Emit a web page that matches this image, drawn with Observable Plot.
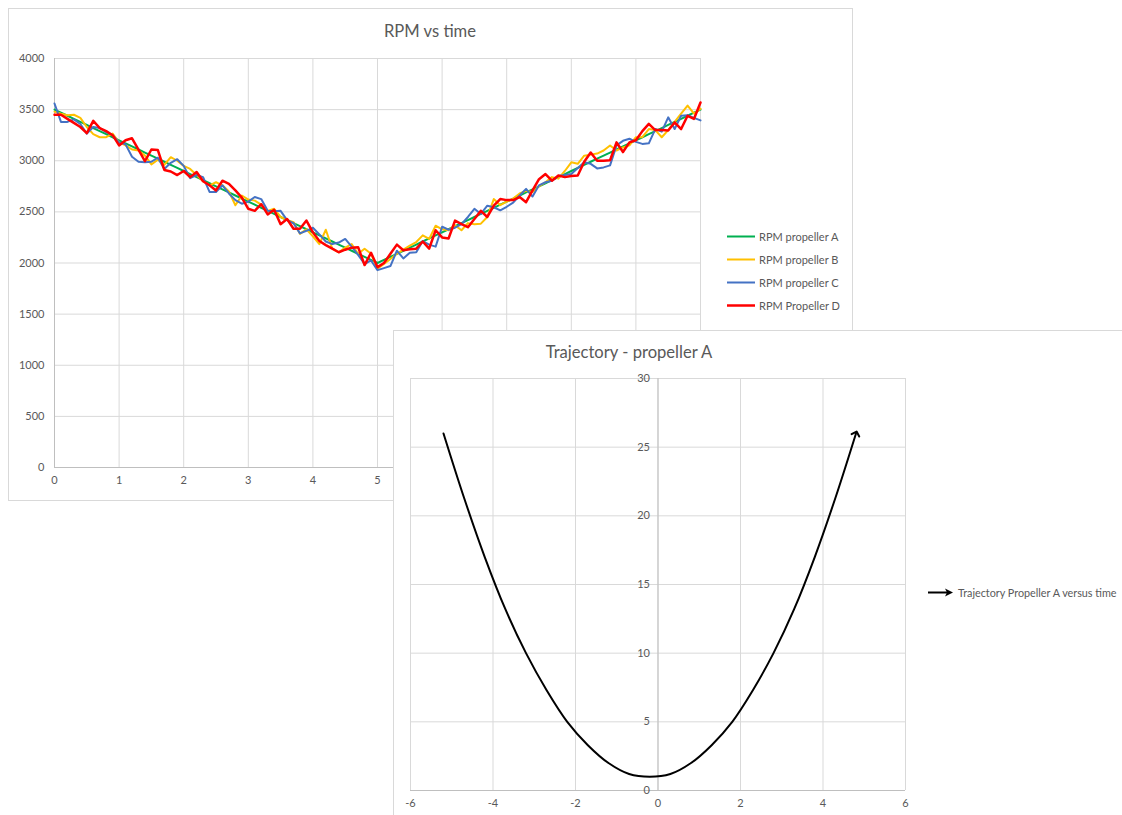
<!DOCTYPE html>
<html><head><meta charset="utf-8">
<script src="https://cdn.jsdelivr.net/npm/d3@7"></script>
<script src="https://cdn.jsdelivr.net/npm/@observablehq/plot@0.6"></script>
<style>
html,body{margin:0;padding:0;background:#fff;width:1122px;height:815px;overflow:hidden;font-family:Lato,"Open Sans",sans-serif;}
.panel{position:absolute;background:#fff;outline:1px solid #d9d9d9;outline-offset:-1px;}
#p1{left:8px;top:8px;width:845px;height:493px;}
#p2{left:393px;top:330px;width:760px;height:520px;}
.panel svg{position:absolute;left:0;top:0;}
.title{position:absolute;color:#595959;font-size:16.6px;white-space:nowrap;transform:translate(-50%,-50%);}
.lg{position:absolute;display:flex;align-items:center;color:#595959;white-space:nowrap;transform:translateY(-50%);}
.lg svg{position:static;margin-right:2px;}
</style></head>
<body>
<div id="p1" class="panel"><div class="title" style="left:422px;top:23px;">RPM vs time</div></div>
<div id="p2" class="panel"><div class="title" style="left:236px;top:22px;">Trajectory - propeller A</div></div>
<script>
// ---- Chart 1: RPM vs time ----
const time = [0,0.1,0.2,0.3,0.4,0.5,0.6,0.7,0.8,0.9,1,1.1,1.2,1.3,1.4,1.5,1.6,1.7,1.8,1.9,2,2.1,2.2,2.3,2.4,2.5,2.6,2.7,2.8,2.9,3,3.1,3.2,3.3,3.4,3.5,3.6,3.7,3.8,3.9,4,4.1,4.2,4.3,4.4,4.5,4.6,4.7,4.8,4.9,5,5.1,5.2,5.3,5.4,5.5,5.6,5.7,5.8,5.9,6,6.1,6.2,6.3,6.4,6.5,6.6,6.7,6.8,6.9,7,7.1,7.2,7.3,7.4,7.5,7.6,7.7,7.8,7.9,8,8.1,8.2,8.3,8.4,8.5,8.6,8.7,8.8,8.9,9,9.1,9.2,9.3,9.4,9.5,9.6,9.7,9.8,9.9,10];
const rpmA = [3500,3470,3440,3410,3380,3350,3320,3290,3260,3230,3200,3170,3140,3110,3080,3050,3020,2990,2960,2930,2900,2870,2840,2810,2780,2750,2720,2690,2660,2630,2600,2570,2540,2510,2480,2450,2420,2390,2360,2330,2300,2270,2240,2210,2180,2150,2120,2090,2060,2030,2000,2030,2060,2090,2120,2150,2180,2210,2240,2270,2300,2330,2360,2390,2420,2450,2480,2510,2540,2570,2600,2630,2660,2690,2720,2750,2780,2810,2840,2870,2900,2930,2960,2990,3020,3050,3080,3110,3140,3170,3200,3230,3260,3290,3320,3350,3380,3410,3440,3470,3500];
const rpmB = [3480,3460,3445,3450,3420,3330,3260,3230,3230,3265,3180,3150,3110,3100,3050,2965,3010,2960,3035,3000,2950,2920,2860,2800,2760,2790,2760,2700,2565,2660,2620,2610,2570,2510,2530,2450,2420,2400,2285,2330,2260,2185,2325,2140,2105,2150,2185,2090,2140,2090,1945,1990,2040,2090,2130,2170,2205,2270,2235,2365,2330,2320,2370,2320,2390,2380,2385,2450,2625,2565,2600,2630,2680,2705,2695,2750,2790,2840,2825,2900,2985,2970,3050,3060,3070,3100,3150,3100,3130,3150,3230,3230,3310,3300,3230,3300,3380,3460,3540,3460,3510];
const rpmC = [3560,3380,3380,3405,3360,3265,3330,3320,3280,3250,3180,3160,3040,2990,2985,2990,3030,2920,2980,3015,2950,2830,2860,2840,2695,2695,2760,2680,2615,2580,2600,2645,2625,2510,2505,2510,2420,2390,2290,2315,2345,2280,2210,2185,2200,2235,2160,2080,1990,2025,1930,1950,1970,2120,2045,2100,2105,2215,2180,2160,2355,2325,2345,2380,2450,2530,2480,2560,2545,2515,2550,2590,2660,2725,2650,2760,2790,2805,2850,2860,2870,2930,2985,2970,2925,2935,2955,3150,3195,3215,3185,3165,3170,3310,3285,3425,3310,3440,3445,3420,3395];
const rpmD = [3450,3450,3410,3370,3330,3270,3390,3320,3290,3250,3150,3200,3220,3110,2995,3110,3105,2910,2895,2860,2900,2840,2890,2800,2760,2710,2805,2775,2710,2640,2530,2510,2575,2475,2520,2380,2430,2335,2335,2415,2300,2215,2175,2140,2105,2130,2150,2155,1980,2100,1960,2000,2090,2180,2125,2135,2140,2210,2140,2320,2250,2240,2415,2380,2350,2430,2510,2450,2560,2625,2615,2615,2645,2595,2710,2820,2870,2805,2855,2840,2850,2855,2990,3080,3000,3000,3005,3180,3085,3180,3200,3290,3360,3300,3300,3295,3375,3310,3440,3410,3570];
const seriesNames = ["RPM propeller A","RPM propeller B","RPM propeller C","RPM Propeller D"];
const seriesColors = ["#00b050","#ffc000","#4472c4","#ff0000"];
const timeTicks = [0,1,2,3,4,5,6,7,8,9,10];
const rpmTicks = [0,500,1000,1500,2000,2500,3000,3500,4000];

// ---- Chart 2: Trajectory ----
const trajX = [-5.2,-4.7,-4.2,-3.7,-3.2,-2.7,-2.2,-1.7,-1.2,-0.7,-0.2,0.3,0.8,1.3,1.8,2.3,2.8,3.3,3.8,4.3,4.8];
const trajY = [26,21.3,17,13.2,10,7.3,5,3.3,2,1.2,1,1.2,2,3.3,5,7.3,10,13.2,17,21.3,26];
const trajXTicks = [-6,-4,-2,0,2,4,6];
const trajYTicks = [0,5,10,15,20,25,30];
const trajLegend = "Trajectory Propeller A versus time";

const gridColor = "#d9d9d9", axisColor = "#bfbfbf", textColor = "#595959";

// chart 1 data table
const rpmSeries = [rpmA, rpmB, rpmC, rpmD];
const rows = [];
rpmSeries.forEach((vals, s) => vals.forEach((v, i) => rows.push({t: time[i], rpm: v, name: seriesNames[s]})));

const chart1 = Plot.plot({
  width: 845, height: 493,
  marginLeft: 46, marginRight: 153, marginTop: 50, marginBottom: 34,
  style: {background: "transparent", fontFamily: "Lato, 'Open Sans', sans-serif", fontSize: "11px", color: textColor},
  x: {domain: [0, 10]},
  y: {domain: [0, 4000]},
  color: {domain: seriesNames, range: seriesColors},
  marks: [
    Plot.gridX(timeTicks, {stroke: gridColor, strokeOpacity: 1}),
    Plot.gridY(rpmTicks, {stroke: gridColor, strokeOpacity: 1}),
    Plot.ruleY([0], {stroke: axisColor}),
    Plot.ruleX([0], {stroke: axisColor}),
    Plot.axisX(timeTicks, {tickSize: 0, tickPadding: 9, label: null, tickFormat: d => String(d)}),
    Plot.axisY(rpmTicks, {tickSize: 0, tickPadding: 10, label: null, tickFormat: d => String(d)}),
    Plot.line(rows, {x: "t", y: "rpm", z: "name", stroke: "name",
      strokeWidth: d => d.name === "RPM Propeller D" ? 2.5 : 2, strokeLinejoin: "round"})
  ]
});
document.getElementById("p1").appendChild(chart1);

// legend 1
seriesNames.forEach((n, i) => {
  const d = document.createElement("div");
  d.className = "lg";
  d.style.left = "719px";
  d.style.top = (228 + i * 23) + "px";
  d.style.fontSize = "11px";
  d.innerHTML = `<svg width="30" height="6"><line x1="0" x2="28" y1="3" y2="3" stroke="${seriesColors[i]}" stroke-width="${i===3?2.5:2}"/></svg><span>${n}</span>`;
  document.getElementById("p1").appendChild(d);
});

const traj = trajX.map((x, i) => ({x, y: trajY[i]}));
const chart2 = Plot.plot({
  width: 729, height: 485,
  marginLeft: 17, marginRight: 217, marginTop: 48, marginBottom: 25,
  style: {background: "transparent", fontFamily: "Lato, 'Open Sans', sans-serif", fontSize: "11px", color: textColor},
  x: {domain: [-6, 6]},
  y: {domain: [0, 30], axis: null},
  marks: [
    Plot.gridX(trajXTicks, {stroke: gridColor, strokeOpacity: 1}),
    Plot.gridY(trajYTicks, {stroke: gridColor, strokeOpacity: 1}),
    Plot.ruleY([0], {stroke: axisColor}),
    Plot.ruleX([0], {stroke: axisColor}),
    Plot.axisX(trajXTicks, {tickSize: 0, tickPadding: 9, label: null, tickFormat: d => String(d)}),
    Plot.text(trajYTicks, {x: 0, y: d => d, text: d => String(d), dx: -8, textAnchor: "end", fill: textColor}),
    Plot.line(traj, {x: "x", y: "y", curve: "catmull-rom", stroke: "black", strokeWidth: 2, markerEnd: "arrow"})
  ]
});
document.getElementById("p2").appendChild(chart2);

const lg2 = document.createElement("div");
lg2.className = "lg";
lg2.style.left = "535px";
lg2.style.top = "262px";
lg2.style.fontSize = "10.8px";
lg2.innerHTML = `<svg width="28" height="12"><line x1="0" x2="22" y1="6" y2="6" stroke="black" stroke-width="2"/><path d="M17,2 L25,6 L17,10 L19,6 Z" fill="black"/></svg><span>${trajLegend}</span>`;
document.getElementById("p2").appendChild(lg2);
</script>
</body></html>
